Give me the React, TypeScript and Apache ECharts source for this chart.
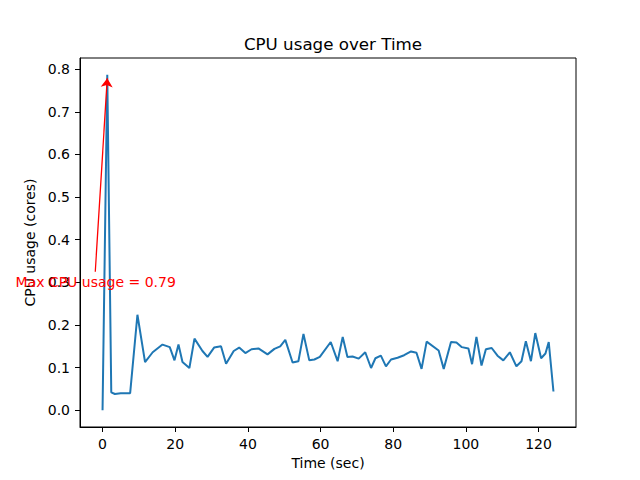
import React, { useEffect, useRef } from "react";
import * as echarts from "echarts";

const timeSec: number[] = [
  0, 1.3, 2.4, 3.4, 5.0, 7.6, 9.6, 11.7, 13.8, 16.5, 18.5, 19.8, 20.9, 22.0, 23.9, 25.3, 27.5,
  28.9, 30.7, 32.6, 34.0, 36.1, 37.6, 39.3, 41.0, 42.9, 45.4, 47.3, 48.9, 50.3, 52.3, 53.9, 55.3,
  56.9, 58.3, 59.8, 62.8, 64.7, 66.1, 67.4, 68.8, 70.5, 72.3, 73.9, 75.1, 76.6, 78.0, 79.4, 81.2,
  83.0, 84.9, 86.4, 87.8, 89.2, 92.5, 93.9, 95.9, 97.4, 98.9, 100.7, 101.7, 102.9, 104.3, 105.5,
  107.1, 108.7, 110.3, 112.1, 113.9, 115.3, 116.5, 117.9, 119.1, 120.7, 121.9, 122.8, 124.1,
];

const cpuUsage: number[] = [
  0.0, 0.787, 0.042, 0.038, 0.04, 0.04, 0.224, 0.113, 0.136, 0.154, 0.148, 0.117, 0.154, 0.113, 0.099, 0.168, 0.139,
  0.125, 0.147, 0.15, 0.109, 0.139, 0.147, 0.134, 0.143, 0.145, 0.131, 0.144, 0.15, 0.165, 0.112, 0.115, 0.179,
  0.117, 0.119, 0.125, 0.16, 0.115, 0.172, 0.125, 0.126, 0.121, 0.136, 0.099, 0.122, 0.128, 0.103, 0.119, 0.123,
  0.129, 0.138, 0.135, 0.097, 0.161, 0.14, 0.097, 0.16, 0.159, 0.148, 0.145, 0.108, 0.172, 0.105, 0.143,
  0.146, 0.128, 0.117, 0.136, 0.103, 0.115, 0.162, 0.115, 0.181, 0.122, 0.133, 0.16, 0.044,
];

const xTicks: number[] = [0, 20, 40, 60, 80, 100, 120];
const yTicks: number[] = [0, 0.1, 0.2, 0.3, 0.4, 0.5, 0.6, 0.7, 0.8];

const annotationText = "Max CPU usage = 0.79";
const annotationTextPos: number[] = [-1.9, 0.3];
const arrowStart: number[] = [-2.0, 0.325];
const arrowEnd: number[] = [1.3, 0.779];

const FONT = "DejaVu Sans";

export default function App() {
  const ref = useRef<HTMLDivElement>(null);

  useEffect(() => {
    if (!ref.current) return;
    const chart = echarts.init(ref.current, undefined, { renderer: "svg" });
    const xMin = 0, xMax = 124.1;
    const xPad = (xMax - xMin) * 0.05;
    const yMaxData = Math.max(...cpuUsage);
    const yPad = yMaxData * 0.05;

    const axisCommon = {
      axisLine: { show: true, onZero: false, lineStyle: { color: "#000", width: 1 } },
      axisTick: { show: true, inside: false, length: 5, lineStyle: { color: "#000", width: 1 } },
      splitLine: { show: false },
      nameTextStyle: { fontFamily: FONT, fontSize: 14, color: "#000" },
    };

    chart.setOption({
      animation: false,
      backgroundColor: "#fff",
      title: {
        text: "CPU usage over Time",
        left: 328,
        top: 30,
        textAlign: "center",
        textStyle: { fontFamily: FONT, fontSize: 16.7, fontWeight: "normal", color: "#000" },
      },
      grid: {
        left: 80,
        right: 64,
        top: 58,
        bottom: 53,
        show: true,
        borderColor: "#000",
        borderWidth: 1,
        backgroundColor: "transparent",
      },
      xAxis: {
        type: "value",
        min: xMin - xPad,
        max: xMax + xPad,
        name: "Time (sec)",
        nameLocation: "middle",
        nameGap: 28,
        ...axisCommon,
        axisTick: { ...axisCommon.axisTick, customValues: xTicks },
        axisLabel: {
          customValues: xTicks,
          margin: 10,
          fontFamily: FONT,
          fontSize: 14,
          color: "#000",
          formatter: (v: number) => String(v),
        },
      },
      yAxis: {
        type: "value",
        min: -yPad,
        max: yMaxData + yPad,
        name: "CPU usage (cores)",
        nameLocation: "middle",
        nameGap: 34,
        ...axisCommon,
        axisTick: { ...axisCommon.axisTick, customValues: yTicks },
        axisLabel: {
          customValues: yTicks,
          margin: 10,
          fontFamily: FONT,
          fontSize: 14,
          color: "#000",
          formatter: (v: number) => v.toFixed(1),
        },
      },
      series: [
        {
          type: "line",
          data: timeSec.map((t, i) => [t, cpuUsage[i]]),
          showSymbol: false,
          symbol: "none",
          lineStyle: { color: "#1f77b4", width: 2 },
          itemStyle: { color: "#1f77b4" },
          z: 2,
        },
        {
          type: "line",
          data: [],
          z: 5,
          markLine: {
            silent: true,
            symbol: ["none", "arrow"],
            symbolSize: 9,
            label: { show: false },
            lineStyle: { color: "#ff0000", width: 1.3, type: "solid" },
            itemStyle: { color: "#ff0000" },
            data: [[{ coord: arrowStart }, { coord: arrowEnd }]],
          },
          markPoint: {
            silent: true,
            symbol: "rect",
            symbolSize: 1,
            itemStyle: { color: "rgba(0,0,0,0)" },
            label: {
              show: true,
              position: "inside",
              formatter: annotationText,
              color: "#ff0000",
              fontFamily: FONT,
              fontSize: 14,
            },
            data: [{ coord: annotationTextPos }],
          },
        },
      ],
    });
    return () => chart.dispose();
  }, []);

  return (
    <div
      ref={ref}
      style={{ position: "fixed", left: 0, top: 0, width: 640, height: 480 }}
    />
  );
}
